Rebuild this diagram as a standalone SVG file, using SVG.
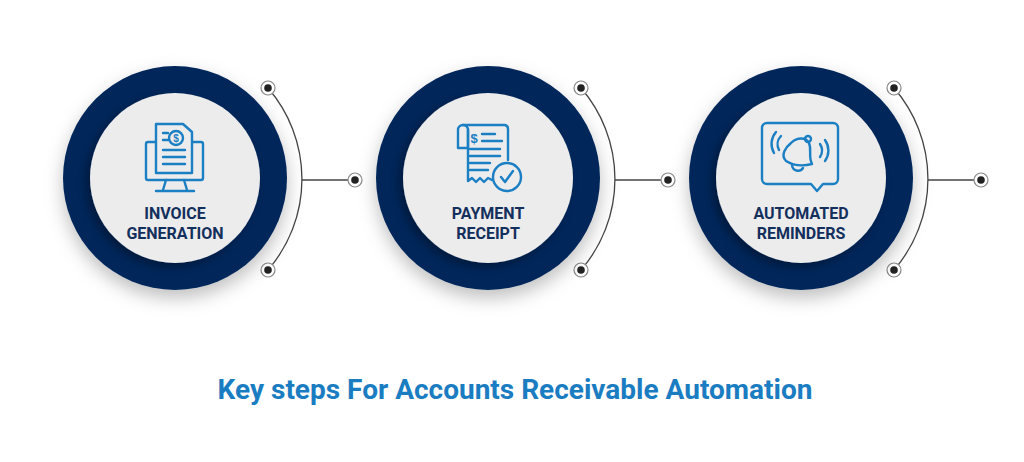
<svg xmlns="http://www.w3.org/2000/svg" width="1024" height="462" viewBox="0 0 1024 462">
<style>
.lbl{font-family:"Roboto","Liberation Sans",sans-serif;font-weight:bold;font-size:16px;fill:#132f5c;text-anchor:middle}
.ic{fill:none;stroke:#1b7fc4;stroke-width:2.4;stroke-linecap:round;stroke-linejoin:round}
.arc{fill:none;stroke:#444;stroke-width:1.3}
.ring{fill:#04285a}
.inner{fill:#ececec}
</style>
<defs>
<filter id="sh" x="-30%" y="-30%" width="160%" height="160%"><feDropShadow dx="0" dy="8" stdDeviation="9" flood-color="#000" flood-opacity="0.25"/></filter>
<filter id="sh2" x="-30%" y="-30%" width="160%" height="160%"><feDropShadow dx="-4" dy="4" stdDeviation="5" flood-color="#000" flood-opacity="0.35"/></filter>
<g id="dot"><circle r="7" fill="#fff" stroke="#888" stroke-width="1.2"/><circle r="3.8" fill="#222"/></g>
<g id="deco">
<path class="arc" d="M268,88 A139,139 0 0 1 268,270"/>
<line class="arc" x1="302" y1="180" x2="355" y2="180"/>
<use href="#dot" x="268" y="88"/><use href="#dot" x="355" y="180"/><use href="#dot" x="268" y="270"/>
</g>
</defs>
<rect width="1024" height="462" fill="#fff"/>
<g id="connectors">
<use href="#deco"/>
<use href="#deco" x="313"/>
<use href="#deco" x="626"/>
</g>
<g id="node1">
<circle class="ring" cx="175" cy="178" r="112" filter="url(#sh)"/>
<circle class="inner" cx="175" cy="178" r="85" filter="url(#sh2)"/>
<g class="ic">
<rect x="146" y="142" width="57" height="38" rx="2"/>
<path d="M166,180 L163,190 M184,180 L187,190 M156,191 H194"/>
<path d="M156,173 V124 H183 L192,132 V173 Z" fill="#ececec"/>
<circle cx="176" cy="138" r="7"/>
<path d="M163,133 H168 M163,140 H168 M163,150 H185 M163,157 H185 M163,164 H185"/>
</g>
<text x="176" y="138" font-family="Liberation Sans,sans-serif" font-size="10" font-weight="bold" fill="#1b7fc4" text-anchor="middle" dominant-baseline="central">$</text>
<text class="lbl" x="175" y="219">INVOICE</text>
<text class="lbl" x="175" y="239">GENERATION</text>
</g>
<g id="node2">
<circle class="ring" cx="488" cy="178" r="112" filter="url(#sh)"/>
<circle class="inner" cx="488" cy="178" r="85" filter="url(#sh2)"/>
<g class="ic">
<path d="M458,148 V130 A5,5 0 0 1 468,130 V148 Z"/>
<path d="M463,125 H505 A4,4 0 0 1 508,129 V160"/>
<path d="M468,130 V181 L472,178 L476,182 L480,178 L484,182 L488,178 L492,180"/>
<path d="M482,134 H495 M482,141 H502 M470,149 H500 M470,156 H500 M470,163 H490 M470,170 H488"/>
<circle cx="507" cy="177" r="14" fill="#ececec"/>
<path d="M501,177 L505,182 L513,171"/>
</g>
<text x="474" y="138" font-family="Liberation Sans,sans-serif" font-size="13" font-weight="bold" fill="#1b7fc4" text-anchor="middle" dominant-baseline="central">$</text>
<text class="lbl" x="488" y="219">PAYMENT</text>
<text class="lbl" x="488" y="239">RECEIPT</text>
</g>
<g id="node3">
<circle class="ring" cx="801" cy="178" r="112" filter="url(#sh)"/>
<circle class="inner" cx="801" cy="178" r="85" filter="url(#sh2)"/>
<g class="ic">
<path d="M767,123 H833 A5,5 0 0 1 838,128 V179 A5,5 0 0 1 833,184 H823 L817,191 L811,184 H767 A5,5 0 0 1 762,179 V128 A5,5 0 0 1 767,123 Z"/>
<path d="M786,161 C780,155 786,147 791,143 C797,137 806,137 809,143 C812,150 808,156 812,164 C804,166 794,166 786,161 Z"/>
<circle cx="808" cy="139" r="3"/>
<path d="M792,165 A6,6 0 0 0 803,168"/>
<path d="M781,136 A12,12 0 0 0 779,150 M776,132 A18,18 0 0 0 774,153 M820,157 A12,12 0 0 0 820,144 M825,161 A18,18 0 0 0 825,140"/>
</g>
<text class="lbl" x="801" y="219">AUTOMATED</text>
<text class="lbl" x="801" y="239">REMINDERS</text>
</g>
<text x="515" y="399" font-family="Roboto,Liberation Sans,sans-serif" font-weight="bold" font-size="28" fill="#1a7cc1" text-anchor="middle">Key steps For Accounts Receivable Automation</text>
</svg>
